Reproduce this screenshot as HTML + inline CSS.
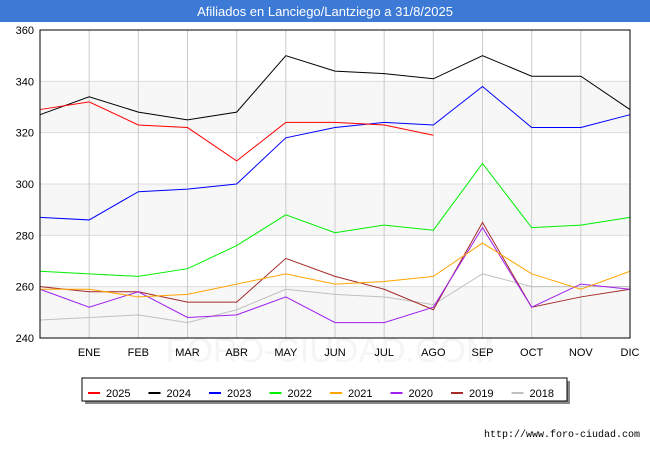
<!DOCTYPE html>
<html><head><meta charset="utf-8"><style>
body{margin:0;width:650px;height:450px;background:#fff;font-family:"Liberation Sans","DejaVu Sans",sans-serif;overflow:hidden}
</style></head><body>
<svg id="c" width="650" height="450" xmlns="http://www.w3.org/2000/svg"></svg>
<script>
const categories=["","ENE","FEB","MAR","ABR","MAY","JUN","JUL","AGO","SEP","OCT","NOV","DIC"];
const yTicks=[240,260,280,300,320,340,360];
const seriesNames=["2025","2024","2023","2022","2021","2020","2019","2018"];
const seriesColors=["#ff0000","#000000","#0000ff","#00ee00","#ffa500","#a020f0","#a52a2a","#c0c0c0"];
const s2025=[329,332,323,322,309,324,324,323,319];
const s2024=[327,334,328,325,328,350,344,343,341,350,342,342,329];
const s2023=[287,286,297,298,300,318,322,324,323,338,322,322,327];
const s2022=[266,265,264,267,276,288,281,284,282,308,283,284,287];
const s2021=[259,259,256,257,261,265,261,262,264,277,265,259,266];
const s2020=[259,252,258,248,249,256,246,246,252,283,252,261,259];
const s2019=[260,258,258,254,254,271,264,259,251,285,252,256,259];
const s2018=[247,248,249,246,251,259,257,256,253,265,260,260,260];
const allSeries=[s2025,s2024,s2023,s2022,s2021,s2020,s2019,s2018];
const NS="http://www.w3.org/2000/svg",svg=document.getElementById('c');
const L=40,R=630,T=30,B=338;
const x=i=>L+i*(R-L)/(categories.length-1);
const y=v=>B-(v-240)/(360-240)*(B-T);
function mk(t,a,p){const e=document.createElementNS(NS,t);for(const k in a)e.setAttribute(k,a[k]);(p||svg).appendChild(e);return e;}
let e;
e=mk('rect',{x:0,y:0,width:650,height:22,fill:'#3c7ad6'});


e=mk('text',{x:325,y:16,'text-anchor':'middle',fill:'#fff','font-size':13});e.textContent='Afiliados en Lanciego/Lantziego a 31/8/2025';


for(let k=0;k<yTicks.length-1;k++){if(k%2==0){e=mk('rect',{x:L,y:y(yTicks[k+1]),width:R-L,height:y(yTicks[k])-y(yTicks[k+1]),fill:'#f7f7f7'});

}}
e=mk('text',{x:330,y:362,'text-anchor':'middle','font-size':34,fill:'#f5f5f5'});e.textContent='FORO-CIUDAD.COM';


yTicks.forEach(v=>{e=mk('line',{x1:L,x2:R,y1:y(v),y2:y(v),stroke:'#ddd'});


e=mk('text',{x:L-6,y:y(v)+4,'text-anchor':'end','font-size':11,fill:'#000'});e.textContent=v;

});
categories.forEach((c,i)=>{e=mk('line',{x1:x(i),x2:x(i),y1:T,y2:B,stroke:'#ccc'});


e=mk('text',{x:x(i),y:356,'text-anchor':'middle','font-size':11});e.textContent=c;

});
for(let s=allSeries.length-1;s>=0;s--){const pts=allSeries[s].map((v,i)=>x(i)+','+y(v)).join(' ');
e=mk('polyline',{points:pts,fill:'none',stroke:seriesColors[s],'stroke-width':1});

}
e=mk('rect',{x:L,y:T,width:R-L,height:B-T,fill:'none',stroke:'#000'});


e=mk('rect',{x:85,y:381,width:485,height:23,fill:'#888'});


e=mk('rect',{x:82,y:378,width:485,height:23,fill:'#fff',stroke:'#000'});


seriesNames.forEach((n,i)=>{const lx=88+i*60.5;
e=mk('line',{x1:lx,x2:lx+12,y1:393,y2:393,stroke:seriesColors[i],'stroke-width':2});


e=mk('text',{x:lx+18,y:397,'font-size':11});e.textContent=n;

});
e=mk('text',{x:640,y:437,'text-anchor':'end','font-size':10,'font-family':'Liberation Mono,monospace'});e.textContent='http://www.foro-ciudad.com';


</script></body></html>
